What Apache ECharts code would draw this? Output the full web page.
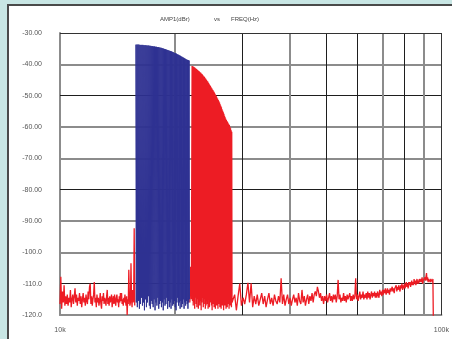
<!DOCTYPE html>
<html>
<head>
<meta charset="utf-8">
<script src="https://cdn.jsdelivr.net/npm/echarts@6/dist/echarts.min.js"></script>
<style>
  html, body { margin: 0; padding: 0; background: #c8e6e4; }
  #main { width: 452px; height: 339px; }
</style>
</head>
<body>
<div id="main"></div>
<script>
// ---- data (kHz / dBr) ----
// noise floor below the blue tones, bins from 10.00k every 0.05k
var lowBandStartKHz = 10.0, lowBandStepKHz = 0.05;
var lowBandDb = [
  -116.5,-107.8,-118.0,-112.5,-116.0,-110.5,-117.0,-114.0,-116.5,-113.5,
  -117.0,-114.5,-116.0,-112.0,-117.5,-115.0,-113.5,-116.5,-114.0,-111.5,
  -116.0,-113.5,-117.0,-114.5,-115.5,-113.0,-116.5,-114.0,-117.5,-115.0,
  -113.0,-116.0,-114.5,-117.0,-113.5,-115.5,-116.5,-112.5,-115.0,-111.0,
  -110.0,-116.5,-114.0,-117.0,-115.0,-113.5,-109.5,-116.0,-114.5,-117.5,
  -113.5,-116.0,-114.5,-117.0,-115.5,-113.0,-116.5,-118.0,-114.0,-115.5,
  -113.0,-116.5,-114.5,-115.5,-117.0,-114.0,-112.0,-116.5,-114.5,-117.0,
  -114.0,-116.0,-115.0,-113.5,-117.5,-115.5,-114.0,-116.5,-113.5,-115.5,
  -117.0,-114.5,-113.5,-116.0,-115.0,-117.5,-114.0,-116.0,-113.0,-115.5,
  -113.0,-116.5,-115.0,-117.0,-114.5,-116.0,-113.5,-115.5,-117.0,-114.0,
  -120.0,-115.0,-116.5,-105.6,-114.0,-117.0,-116.0,-103.5,-114.5,-117.5,
  -112.0,-116.0,-115.0,-92.3,-117.0
];

// blue tones 15.8k .. 21.8k, one every 0.1k: peak and floor between tones
var blueStartKHz = 15.8, toneStepKHz = 0.1;
var blueTopDb = [
  -33.7,-33.7,-33.7,-33.7,-33.8,-33.8,-33.8,-33.8,-33.9,-33.9,
  -33.9,-34.0,-34.0,-34.0,-34.1,-34.1,-34.2,-34.2,-34.3,-34.3,
  -34.4,-34.4,-34.5,-34.5,-34.6,-34.7,-34.7,-34.8,-34.9,-35.0,
  -35.1,-35.2,-35.3,-35.4,-35.5,-35.6,-35.7,-35.8,-35.9,-36.0,
  -36.1,-36.3,-36.4,-36.5,-36.6,-36.8,-36.9,-37.0,-37.2,-37.3,
  -37.5,-37.6,-37.8,-37.9,-38.1,-38.2,-38.4,-38.5,-38.6,-38.7,
  -38.8
];
var blueFloorDb = [
  -116.0,-117.5,-115.5,-118.0,-116.5,-114.5,-117.0,-116.0,-118.5,-115.0,
  -117.5,-116.0,-114.0,-117.0,-118.0,-115.5,-116.5,-117.5,-115.0,-118.5,
  -116.0,-117.0,-114.5,-118.0,-116.5,-115.5,-117.5,-116.0,-118.5,-115.0,
  -117.0,-116.5,-114.5,-118.0,-115.5,-117.5,-116.0,-118.0,-115.0,-117.0,
  -116.5,-115.5,-117.5,-118.5,-116.0,-114.5,-117.0,-116.0,-118.0,-115.5,
  -117.5,-116.5,-115.0,-118.0,-116.0,-117.0,-115.5,-116.5,-118.0,-116.0,
  -115.0
];

// small gap between the two tone blocks (21.9k .. 22.1k)
var gapStartKHz = 21.9;
var gapDb = [-116.0, -104.6, -115.0];

// red tones 22.2k .. 28.2k
var redStartKHz = 22.2;
var redTopDb = [
  -40.5,-40.6,-40.8,-40.9,-41.1,-41.3,-41.5,-41.7,-41.9,-42.1,
  -42.3,-42.5,-42.7,-43.0,-43.2,-43.5,-43.8,-44.0,-44.3,-44.6,
  -44.9,-45.2,-45.5,-45.9,-46.2,-46.6,-46.9,-47.3,-47.6,-48.0,
  -48.3,-48.7,-49.0,-49.4,-49.8,-50.2,-50.6,-51.0,-51.4,-51.8,
  -52.2,-52.7,-53.2,-53.7,-54.3,-54.8,-55.3,-55.8,-56.4,-56.9,
  -57.4,-57.8,-58.1,-58.4,-58.8,-59.1,-59.4,-59.9,-60.4,-61.0,
  -61.5
];
var redFloorDb = [
  -115.5,-117.0,-116.0,-118.0,-114.5,-116.5,-117.5,-115.0,-118.0,-116.0,
  -117.0,-115.5,-118.5,-116.0,-114.5,-117.5,-116.5,-115.0,-118.0,-117.0,
  -115.5,-116.5,-118.0,-115.0,-117.5,-116.0,-114.5,-117.0,-118.5,-115.5,
  -116.5,-117.5,-115.0,-118.0,-116.0,-117.0,-115.5,-118.0,-116.5,-114.5,
  -117.5,-116.0,-118.0,-115.0,-117.0,-116.5,-118.5,-115.5,-117.0,-116.0,
  -118.0,-115.0,-117.5,-116.5,-114.5,-118.0,-116.0,-117.0,-115.5,-117.5,
  -116.0
];

// noise floor above the tones, bins from 28.4k every 0.3k (trace ends ~95k)
var highBandStartKHz = 28.4, highBandStepKHz = 0.3;
var highBandDb = [
  -116.5,-113.5,-118.5,-114.0,-110.0,-117.0,-114.5,-116.5,-113.5,-109.7,
  -116.0,-109.9,-117.5,-114.0,-116.5,-113.5,-117.0,-115.0,-113.0,-116.5,
  -114.0,-117.5,-115.0,-113.0,-116.5,-114.5,-117.0,-113.5,-115.5,-116.5,
  -114.0,-116.0,-108.3,-116.5,-113.5,-117.0,-115.0,-113.5,-116.5,-114.5,
  -117.0,-115.0,-113.5,-116.0,-114.5,-117.0,-113.0,-115.5,-116.5,-112.0,
  -116.0,-114.0,-117.0,-115.0,-113.5,-116.5,-114.0,-115.5,-113.0,-116.0,
  -113.5,-112.5,-114.0,-111.0,-112.5,-114.5,-113.0,-115.5,-114.0,-116.5,
  -114.0,-115.5,-113.5,-116.0,-114.5,-113.0,-115.5,-114.0,-116.0,-113.5,
  -115.0,-113.5,-116.0,-114.0,-108.8,-115.0,-113.5,-116.0,-114.5,-115.5,
  -113.0,-115.5,-114.0,-116.0,-113.5,-115.0,-114.5,-113.0,-115.5,-114.0,
  -115.5,-113.5,-115.0,-114.0,-108.3,-115.0,-113.5,-115.5,-114.0,-112.5,
  -115.0,-113.5,-114.5,-112.5,-115.0,-113.5,-114.5,-113.0,-115.0,-112.5,
  -114.5,-113.0,-115.0,-113.5,-112.5,-114.5,-113.0,-114.0,-112.5,-114.5,
  -113.0,-114.5,-112.5,-113.5,-114.5,-112.0,-113.5,-112.5,-114.0,-112.0,
  -113.5,-112.0,-113.0,-111.5,-113.5,-112.5,-111.5,-113.0,-112.0,-113.5,
  -111.5,-112.5,-113.0,-111.0,-112.5,-111.5,-113.0,-111.5,-112.0,-110.5,
  -112.5,-111.0,-112.0,-110.5,-111.5,-112.5,-110.5,-111.5,-110.0,-112.0,
  -110.5,-111.5,-110.0,-111.5,-110.5,-109.5,-111.0,-110.0,-111.5,-109.5,
  -110.5,-109.5,-111.0,-110.0,-109.0,-110.5,-109.5,-110.5,-108.5,-110.0,
  -109.0,-110.5,-109.5,-108.5,-110.0,-109.0,-110.0,-108.5,-109.5,-110.0,
  -108.5,-109.5,-108.0,-110.0,-109.0,-108.5,-109.5,-108.0,-109.0,-109.5,
  -106.6,-109.0,-108.0,-109.5,-108.5,-109.0,-108.0,-109.5,-108.5,-109.0,
  -108.0,-109.5,-108.5,-125.0
];

// axis ticks
var yTicksDb = [-30, -40, -50, -60, -70, -80, -90, -100, -110, -120];
var xGridKHz = [20, 30, 40, 50, 60, 70, 80, 90];
var xLabelKHz = [10, 100];

// ---- helpers ----
function band(startKHz, stepKHz, dbList) {
  var out = [];
  for (var i = 0; i < dbList.length; i++) {
    out.push([Math.round((startKHz + i * stepKHz) * 1000), dbList[i]]);
  }
  return out;
}
// each tone: its peak, then the floor half a step later
function tones(startKHz, stepKHz, tops, floors) {
  var out = [];
  for (var i = 0; i < tops.length; i++) {
    var f = (startKHz + i * stepKHz) * 1000;
    out.push([Math.round(f), tops[i]]);
    out.push([Math.round(f + stepKHz * 500), floors[i]]);
  }
  return out;
}

var GRAY = '#8c8c8c', BLACK = '#1e1e1e';
var hGridBlack = { '-50': 1, '-80': 1, '-110': 1 };
var vGridBlack = { '30': 1, '50': 1, '60': 1, '80': 1 };

var gridLines = [];
yTicksDb.forEach(function (v) {
  if (v === -30 || v === -120) return;
  var dark = hGridBlack[String(v)];
  gridLines.push({ yAxis: v, lineStyle: { color: dark ? BLACK : GRAY, width: dark ? 1 : 2, type: 'solid' } });
});
xGridKHz.forEach(function (k) {
  var dark = vGridBlack[String(k)];
  gridLines.push({ xAxis: k * 1000, lineStyle: { color: dark ? BLACK : GRAY, width: dark ? 1 : 2, type: 'solid' } });
});
// top and right frame of the plot
gridLines.push({ yAxis: -30, lineStyle: { color: '#333', width: 1, type: 'solid' } });
gridLines.push({ xAxis: xLabelKHz[1] * 1000, lineStyle: { color: '#333', width: 1, type: 'solid' } });

var redLow = band(lowBandStartKHz, lowBandStepKHz, lowBandDb);
var redMain = band(gapStartKHz, toneStepKHz, gapDb)
  .concat(tones(redStartKHz, toneStepKHz, redTopDb, redFloorDb))
  .concat(band(highBandStartKHz, highBandStepKHz, highBandDb));
var blue = tones(blueStartKHz, toneStepKHz, blueTopDb, blueFloorDb);

var chart = echarts.init(document.getElementById('main'));
var labelFont = { fontSize: 7, color: '#555', fontFamily: 'Liberation Sans' };

var option = {
  animation: false,
  backgroundColor: '#c8e6e4',
  // white panel + title pieces
  graphic: [
    { type: 'rect', z: -10, shape: { x: 8, y: 5, width: 460, height: 350 },
      style: { fill: '#ffffff', stroke: '#4a4a4a', lineWidth: 2 } },
    { type: 'text', left: 160, top: 16, style: { text: 'AMP1(dBr)', fontSize: 6, fill: '#444', fontFamily: 'Liberation Sans' } },
    { type: 'text', left: 214, top: 16, style: { text: 'vs', fontSize: 6, fill: '#444', fontFamily: 'Liberation Sans' } },
    { type: 'text', left: 231, top: 16, style: { text: 'FREQ(Hz)', fontSize: 6, fill: '#444', fontFamily: 'Liberation Sans' } }
  ],
  grid: { left: 60, top: 33, right: 9, bottom: 24 },
  xAxis: {
    type: 'log',
    logBase: 10,
    min: xLabelKHz[0] * 1000,
    max: xLabelKHz[1] * 1000,
    axisLine: { show: true, lineStyle: { color: GRAY, width: 2 } },
    axisTick: { show: false },
    splitLine: { show: false },
    minorTick: { show: false },
    axisLabel: Object.assign({ margin: 12, formatter: function (v) { return (v / 1000) + 'k'; } }, labelFont)
  },
  yAxis: {
    type: 'value',
    min: -120,
    max: -30,
    interval: 10,
    axisLine: { show: true, lineStyle: { color: GRAY, width: 2 } },
    axisTick: { show: false },
    splitLine: { show: false },
    axisLabel: Object.assign({ margin: 18, formatter: function (v) { return v <= -100 ? v.toFixed(1) : v.toFixed(2); } }, labelFont)
  },
  series: [
    { // grid lines, kept under the traces
      type: 'line', data: [], z: 1, silent: true,
      markLine: { z: 1, silent: true, symbol: 'none', label: { show: false }, animation: false, data: gridLines }
    },
    { type: 'line', data: redLow, z: 3, symbol: 'none', lineStyle: { color: '#ed1c24', width: 1.3 } },
    { type: 'line', data: redMain, z: 3, symbol: 'none', lineStyle: { color: '#ed1c24', width: 1.3 } },
    { type: 'line', data: blue, z: 4, symbol: 'none', lineStyle: { color: '#2e3192', width: 1 } }
  ]
};

chart.setOption(option);
</script>
</body>
</html>
